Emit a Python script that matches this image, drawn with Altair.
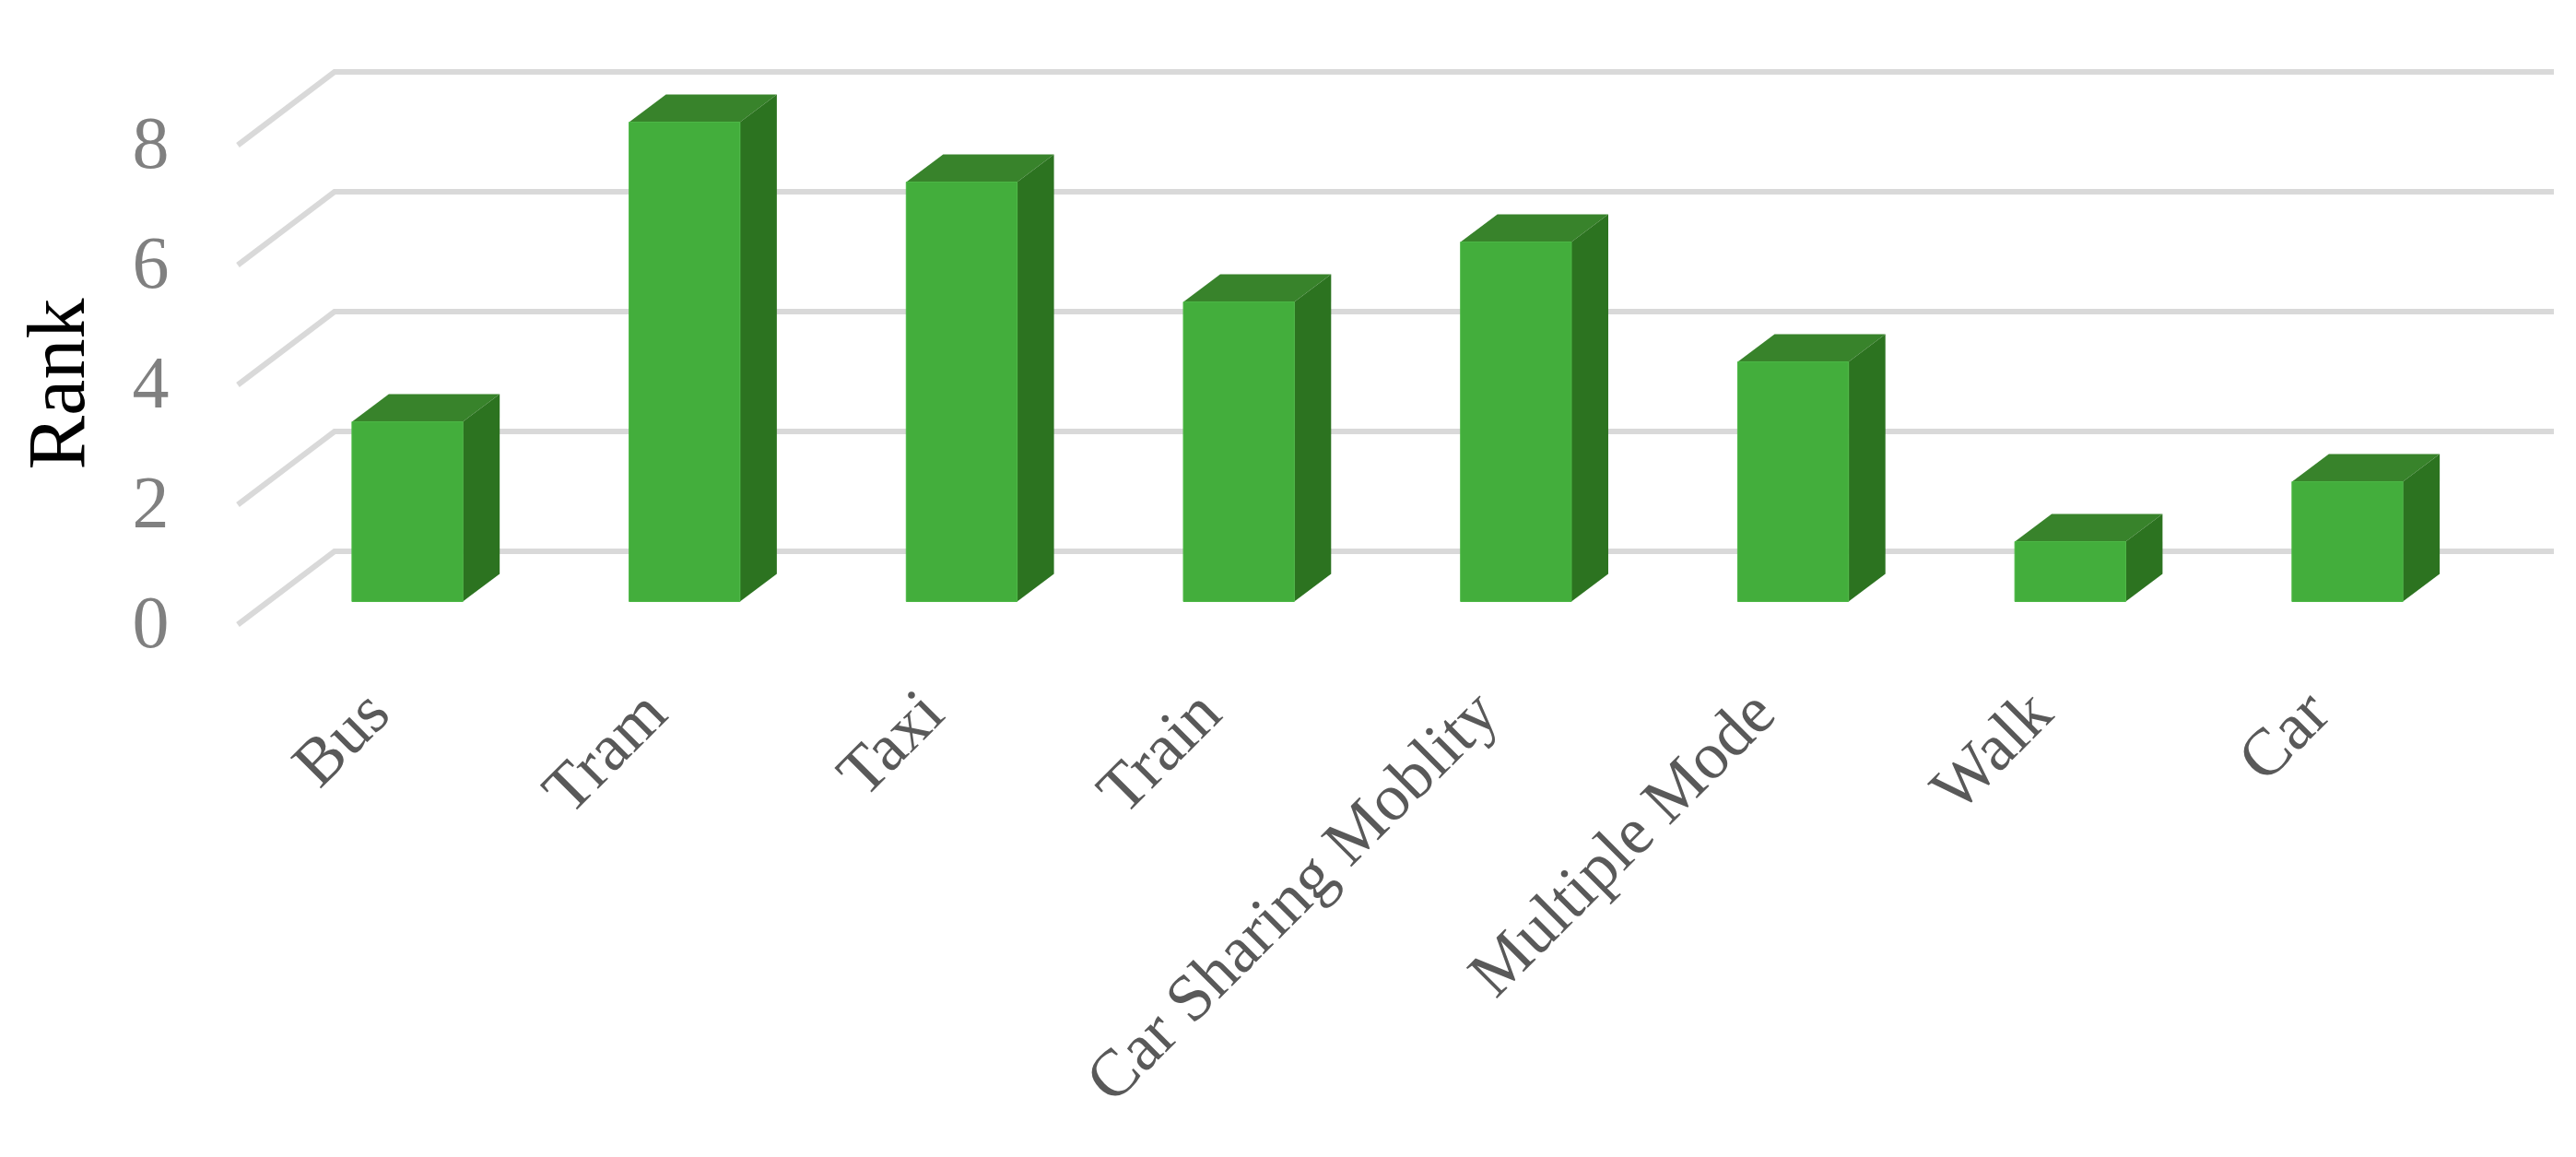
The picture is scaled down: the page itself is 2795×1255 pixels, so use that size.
import json
import altair as alt
import pandas as pd

categories = ["Bus", "Tram", "Taxi", "Train", "Car Sharing Moblity", "Multiple Mode", "Walk", "Car"]
ranks = [3, 8, 7, 5, 6, 4, 1, 2]
ticks = [0, 2, 4, 6, 8]

# Oblique-projection constants, in data units (x: category steps, y: rank units)
half = 0.2
bar_dx, bar_dy = 0.133, 0.46
base = 0.385
grid_dx, grid_dy = 0.349, 1.223
x_min, x_max = -0.612, 7.745
y_max = 9.223

front, top, side = [], [], []
for i, (c, v) in enumerate(zip(categories, ranks)):
    x0, x1 = i - half, i + half
    b, t = base, base + v
    front.append(dict(c=c, x=x0, x2=x1, y=b, y2=t))
    top += [
        dict(c=c, x=x0, y=t, y2=t),
        dict(c=c, x=x0 + bar_dx, y=t, y2=t + bar_dy),
        dict(c=c, x=x1, y=t, y2=t + bar_dy),
        dict(c=c, x=x1 + bar_dx, y=t + bar_dy, y2=t + bar_dy),
    ]
    side += [
        dict(c=c, x=x1, y=b, y2=t),
        dict(c=c, x=x1 + bar_dx, y=b + bar_dy, y2=t + bar_dy),
    ]

grid = []
for k in ticks:
    grid += [
        dict(k=k, x=x_min, y=k),
        dict(k=k, x=x_min + grid_dx, y=k + grid_dy),
        dict(k=k, x=x_max, y=k + grid_dy),
    ]

FONT = "Liberation Serif"
label_expr = json.dumps(categories) + "[datum.value]"
x_scale = alt.Scale(domain=[x_min, x_max], nice=False, zero=False)
y_scale = alt.Scale(domain=[0, y_max], nice=False, zero=False)

x_axis = alt.Axis(
    values=list(range(len(categories))), labelExpr=label_expr, title=None, grid=False,
    domain=False, ticks=False, labelAngle=-45, labelAlign="right", labelBaseline="middle",
    labelPadding=84, labelOffset=-32, labelLimit=3000, labelFont=FONT, labelFontSize=72, labelColor="#595959",
    labelOverlap=False, labelBound=False, labelFlush=False,
)
y_axis = alt.Axis(
    values=ticks, title="Rank", grid=False, domain=False, ticks=False,
    labelPadding=75, labelFont=FONT, labelFontSize=80, labelColor="#808080",
    titleFont=FONT, titleFontSize=88, titleFontWeight="normal", titleColor="#000000",
    titleAngle=-90, titleAlign="center", titleBaseline="bottom", titleX=-150, titleY=338,
    labelOverlap=False, labelBound=False, labelFlush=False,
)

xq = alt.X("x:Q", scale=x_scale, axis=x_axis)
yq = alt.Y("y:Q", scale=y_scale, axis=y_axis)

grid_layer = alt.Chart(pd.DataFrame(grid)).mark_line(
    color="#d9d9d9", strokeWidth=6, strokeCap="butt", strokeJoin="miter"
).encode(x=xq, y=yq, detail="k:N", order=alt.Order("x:Q"))

top_layer = alt.Chart(pd.DataFrame(top)).mark_area(color="#38832b").encode(
    x=xq, y=yq, y2="y2:Q", detail="c:N"
)
side_layer = alt.Chart(pd.DataFrame(side)).mark_area(color="#2c7320").encode(
    x=xq, y=yq, y2="y2:Q", detail="c:N"
)
front_layer = alt.Chart(pd.DataFrame(front)).mark_rect(
    color="#43ae3c", stroke="#4cb845", strokeWidth=1
).encode(x=xq, x2="x2:Q", y=yq, y2="y2:Q")

chart = alt.layer(grid_layer, top_layer, side_layer, front_layer).properties(
    width=2513, height=599.5,
    autosize=alt.AutoSizeParams(type="none"),
    padding={"left": 250, "top": 70, "right": 10, "bottom": 560},
    background="white",
).configure_view(stroke=None)

chart.save("out.html", embed_options={"renderer": "svg", "actions": False})
